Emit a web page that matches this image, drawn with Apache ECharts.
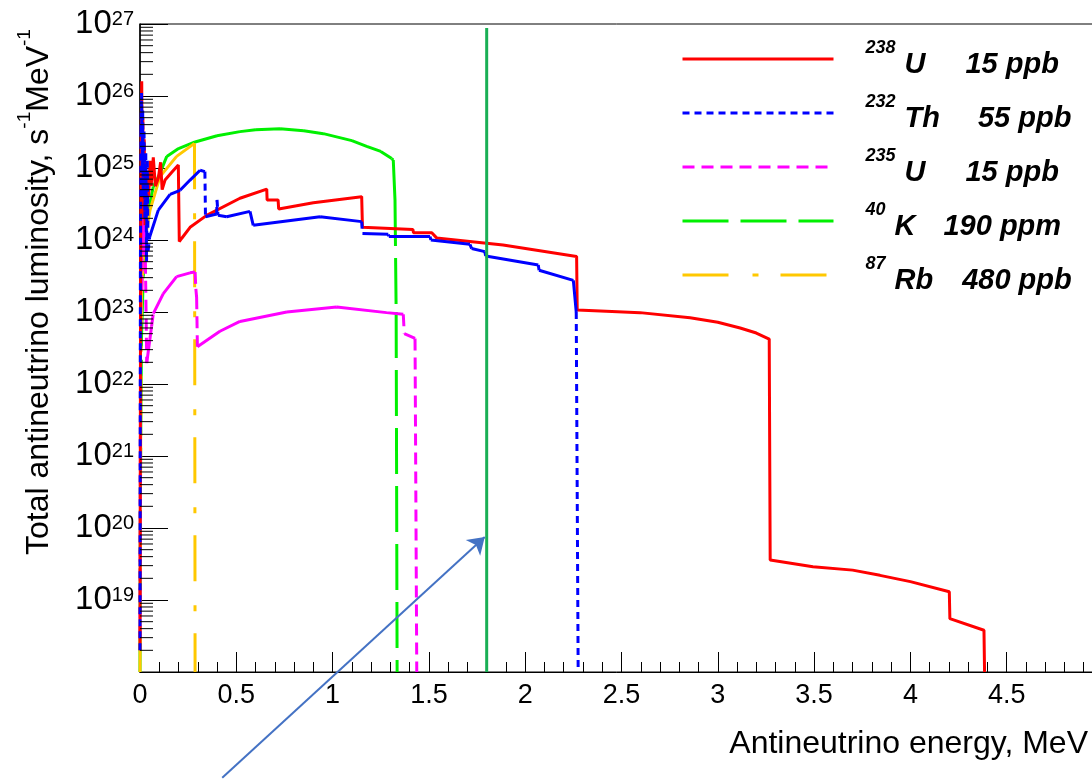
<!DOCTYPE html>
<html><head><meta charset="utf-8">
<script src="https://cdn.jsdelivr.net/npm/echarts@6/dist/echarts.min.js"></script>
<style>html,body{margin:0;padding:0;background:#fff}#c{width:1092px;height:783px}</style>
</head><body><div id="c"></div>
<script>
// ---- data (energy in MeV, luminosity in s^-1 MeV^-1) ----
const energyU238 = [0,0.003,0.006,0.009,0.012,0.015,0.018,0.022,0.026,0.03,0.035,0.04,0.045,0.052,0.058,0.069,0.08,0.095,0.107,0.115,0.13,0.165,0.199,0.204,0.216,0.26,0.346,0.519,0.658,0.66,0.717,0.72,0.9,1.151,1.155,1.417,1.42,1.515,1.54,1.885,2.267,2.27,2.45,2.596,2.856,3.0,3.116,3.2,3.267,3.272,3.494,3.7,3.842,4.0,4.202,4.205,4.382,4.385];
const lumU238 = [2e18,3e23,2.5e25,1.6e26,4e24,5e25,2e24,2.5e25,1.6e24,1e25,2.5e24,8e24,4e24,1.26e25,5.6e24,1.4e25,5.6e24,7.2e24,1.2e25,5e24,6.8e24,8.7e24,1.1e25,9.5e23,1.05e24,1.5e24,2.2e24,3.8e24,5.1e24,3.6e24,3.6e24,2.7e24,3.3e24,4e24,1.5e24,1.4e24,1.26e24,1.26e24,1.07e24,8.5e23,5.9e23,1.07e23,1.02e23,9.8e22,8.3e22,7.2e22,6e22,5.1e22,4.2e22,3.6e19,2.9e19,2.6e19,2.2e19,1.8e19,1.3e19,5.5e18,3.8e18,1e18];

const energyTh232 = [0,0.002,0.005,0.008,0.011,0.014,0.017,0.021,0.025,0.03,0.034,0.038,0.042,0.05,0.095,0.156,0.208,0.26,0.312,0.337,0.34,0.398,0.40,0.405,0.45,0.571,0.588,0.935,1.151,1.155,1.289,1.292,1.506,1.51,1.713,1.722,1.79,1.795,2.068,2.072,2.25,2.265,2.275];
const lumTh232 = [2e18,4e23,3.2e25,1.1e26,1e25,6.3e25,4e24,3.2e25,2e24,1.6e25,5e23,1.26e25,7e23,1.1e24,2.6e24,4.3e24,4.9e24,6.8e24,9.3e24,8.9e24,2.1e24,2.3e24,3.6e24,2.2e24,2.1e24,2.5e24,1.6e24,2.1e24,1.8e24,1.23e24,1.2e24,1.12e24,1.12e24,1e24,8.7e23,7.6e23,6.9e23,6e23,4.5e23,3.8e23,2.75e23,1e23,1e18];

const energyU235 = [0,0.003,0.006,0.01,0.014,0.018,0.022,0.028,0.035,0.06,0.069,0.121,0.19,0.26,0.286,0.29,0.294,0.298,0.415,0.519,0.762,1.021,1.28,1.367,1.372,1.428,1.437];
const lumU235 = [3e18,3e22,2e24,2e23,4e24,6.3e23,1.6e24,5e23,1.95e22,6.3e22,9.5e22,1.8e23,3.1e23,3.5e23,3.6e23,2.1e23,1.6e23,3.3e22,5.4e22,7.4e22,1e23,1.17e23,9.8e22,9.3e22,5e22,4.3e22,1e18];

const energyK40 = [0,0.002,0.005,0.008,0.017,0.035,0.069,0.1,0.139,0.2,0.286,0.4,0.519,0.6,0.727,0.85,0.952,1.1,1.177,1.25,1.307,1.315,1.324,1.33,1.335];
const lumK40 = [1e18,3e20,5e21,4.6e22,3.1e23,2e24,5.5e24,8e24,1.45e25,1.86e25,2.3e25,2.8e25,3.2e25,3.4e25,3.5e25,3.3e25,3e25,2.4e25,2e25,1.7e25,1.35e25,1.29e25,3.6e24,1e23,1e18];

const energyRb87 = [0,0.004,0.008,0.02,0.052,0.104,0.19,0.283,0.286];
const lumRb87 = [1e18,3e21,2e23,8e23,2.6e24,7.6e24,1.45e25,2.2e25,1e18];

const seriesNames = ['238U','232Th','235U','40K','87Rb'];
const massNumbers = ['238','232','235','40','87'];
const elementSymbols = ['U','Th','U','K','Rb'];
const concentrations = ['15 ppb','55 ppb','15 ppb','190 ppm','480 ppb'];

const markerEnergy = 1.8;
const markerLum = [1e18, 8.8e26];
const arrowStart = [0.427, 3.4e16];
const arrowEnd = [1.79, 7.5e19];

const yMinExp = 18, yMaxExp = 27;
const xTickStep = 0.5;

// ---- helpers ----
function pairs(e, l) { return e.map((x, i) => [x, l[i]]); }
const FONT = '"Liberation Sans", Arial, Helvetica, sans-serif';
// ROOT draws histogram steps as many short pieces, so dash patterns only show on the long (near vertical) drops.
const DROP_DX = 0.01;
function segments(pts, wantDrop) {
  const out = [];
  for (let i = 0; i < pts.length - 1; i++) {
    const isDrop = Math.abs(pts[i + 1][0] - pts[i][0]) <= DROP_DX;
    if (isDrop !== wantDrop) continue;
    out.push(pts[i], pts[i + 1], [pts[i + 1][0], '-']);
  }
  return out;
}

const minorTickValues = [];
for (let n = yMinExp; n < yMaxExp; n++) for (let k = 2; k <= 9; k++) minorTickValues.push([0, k * Math.pow(10, n)]);

const styles = {
  '238U': {color: '#ff0000', type: 'solid', z: 5},
  '232Th': {color: '#0000ff', type: [7, 5], z: 6},
  '235U': {color: '#ff00ff', type: [12, 7], z: 4},
  '40K': {color: '#00f000', type: [46, 12], z: 2},
  '87Rb': {color: '#ffc800', type: [46, 24, 6, 22], z: 3}
};
const dataSets = {
  '238U': pairs(energyU238, lumU238),
  '232Th': pairs(energyTh232, lumTh232),
  '235U': pairs(energyU235, lumU235),
  '40K': pairs(energyK40, lumK40),
  '87Rb': pairs(energyRb87, lumRb87)
};

const lineSeries = [];
seriesNames.forEach(name => {
  const st = styles[name];
  if (st.type === 'solid') {
    lineSeries.push({
      name, type: 'line', data: dataSets[name], showSymbol: false, symbol: 'none', z: st.z,
      lineStyle: {color: st.color, width: 3, type: 'solid'}, itemStyle: {color: st.color}
    });
  } else {
    lineSeries.push({
      name: name + ' body', type: 'line', data: segments(dataSets[name], false), showSymbol: false, symbol: 'none', z: st.z,
      connectNulls: false, lineStyle: {color: st.color, width: 3, type: 'solid'}, itemStyle: {color: st.color}
    });
    lineSeries.push({
      name, type: 'line', data: segments(dataSets[name], true), showSymbol: false, symbol: 'none', z: st.z,
      connectNulls: false, lineStyle: {color: st.color, width: 3, type: st.type}, itemStyle: {color: st.color}
    });
  }
});

const valGap = {'238U': 40, '232Th': 38, '235U': 40, '40K': 28, '87Rb': 29};
const legendRich = {
  sup: {fontSize: 18, lineHeight: 18, verticalAlign: 'top', fontWeight: 'bold', fontStyle: 'italic', fontFamily: FONT, color: '#000', padding: [0, 0, 0, 27]},
  iso: {fontSize: 29, lineHeight: 40, verticalAlign: 'bottom', fontWeight: 'bold', fontStyle: 'italic', fontFamily: FONT, color: '#000', padding: [0, 0, 0, 9]}
};
seriesNames.forEach((n, i) => {
  legendRich['val' + i] = {fontSize: 29, lineHeight: 40, verticalAlign: 'bottom', fontWeight: 'bold', fontStyle: 'italic', fontFamily: FONT, color: '#000', padding: [0, 0, 0, valGap[n]]};
});

const chart = echarts.init(document.getElementById('c'));
chart.setOption({
  animation: false,
  backgroundColor: '#fff',
  grid: {left: 140, top: 24, width: 963, height: 648, show: true, borderColor: '#000', borderWidth: 1, containLabel: false, outerBoundsMode: 'none'},
  xAxis: {
    type: 'value', min: 0, max: 5, interval: xTickStep,
    axisLine: {show: true, lineStyle: {color: '#000', width: 1}},
    axisTick: {show: true, inside: true, length: 20, lineStyle: {color: '#000', width: 1}},
    minorTick: {show: true, splitNumber: 5, length: 10, lineStyle: {color: '#000', width: 1}},
    splitLine: {show: false},
    axisLabel: {color: '#000', fontSize: 27, fontFamily: FONT, margin: 10}
  },
  yAxis: {
    type: 'log', logBase: 10, min: Math.pow(10, yMinExp), max: Math.pow(10, yMaxExp), interval: 1, splitNumber: 9,
    axisLine: {show: true, lineStyle: {color: '#000', width: 1.5}},
    axisTick: {show: true, inside: true, length: 28, lineStyle: {color: '#000', width: 1}},
    splitLine: {show: false},
    axisLabel: {
      margin: 6, color: '#000', fontFamily: FONT,
      formatter: v => { const n = Math.round(Math.log10(v)); return n <= yMinExp ? '' : '{b|10}{s|' + n + '}'; },
      rich: {
        b: {fontSize: 33, lineHeight: 33, verticalAlign: 'bottom', fontFamily: FONT, color: '#000'},
        s: {fontSize: 20, lineHeight: 20, verticalAlign: 'top', padding: [2, 0, 24, 0], fontFamily: FONT, color: '#000'}
      }
    }
  },
  legend: {
    data: seriesNames, orient: 'vertical', left: 681, top: 39, padding: 0,
    itemWidth: 151, itemHeight: 14, itemGap: 14,
    itemStyle: {opacity: 0},
    lineStyle: {width: 3},
    formatter: name => { const i = seriesNames.indexOf(name); return '{sup|' + massNumbers[i] + '}{iso|' + elementSymbols[i] + '}{val' + i + '|' + concentrations[i] + '}'; },
    textStyle: {color: '#000', fontFamily: FONT, rich: legendRich}
  },
  series: [
    ...lineSeries,
    {
      name: 'marker', type: 'line', data: [[markerEnergy, markerLum[0]], [markerEnergy, markerLum[1]]],
      showSymbol: false, symbol: 'none', z: 8, lineStyle: {color: '#1aaf55', width: 3}
    },
    {
      name: 'arrow', type: 'lines', coordinateSystem: 'cartesian2d', clip: false, z: 9,
      symbol: ['none', 'arrow'], symbolSize: 16,
      lineStyle: {color: '#4472c4', width: 2, opacity: 1},
      data: [{coords: [arrowStart, arrowEnd]}]
    },
    {
      name: 'minorTicks', type: 'custom', data: minorTickValues, clip: false, silent: true, z: 10,
      renderItem: (params, api) => {
        const p = api.coord([0, api.value(1)]);
        return {type: 'line', shape: {x1: p[0], y1: p[1], x2: p[0] + 13, y2: p[1]}, style: {stroke: '#000', lineWidth: 1}};
      }
    }
  ],
  graphic: [
    {
      type: 'text', x: 35, y: 292, rotation: Math.PI / 2, silent: true,
      style: {
        text: '{t|Total antineutrino luminosity, s}{s|-1}{t|MeV}{s|-1}',
        align: 'center', verticalAlign: 'middle', fill: '#000',
        rich: {
          t: {fontSize: 32, lineHeight: 40, verticalAlign: 'bottom', fontFamily: FONT, fill: '#000'},
          s: {fontSize: 19, lineHeight: 19, verticalAlign: 'top', fontFamily: FONT, fill: '#000'}
        }
      }
    },
    {
      type: 'text', x: 1088, y: 744, silent: true,
      style: {text: 'Antineutrino energy, MeV', align: 'right', verticalAlign: 'middle', fontSize: 32, fontFamily: FONT, fill: '#000'}
    }
  ]
});
</script></body></html>
